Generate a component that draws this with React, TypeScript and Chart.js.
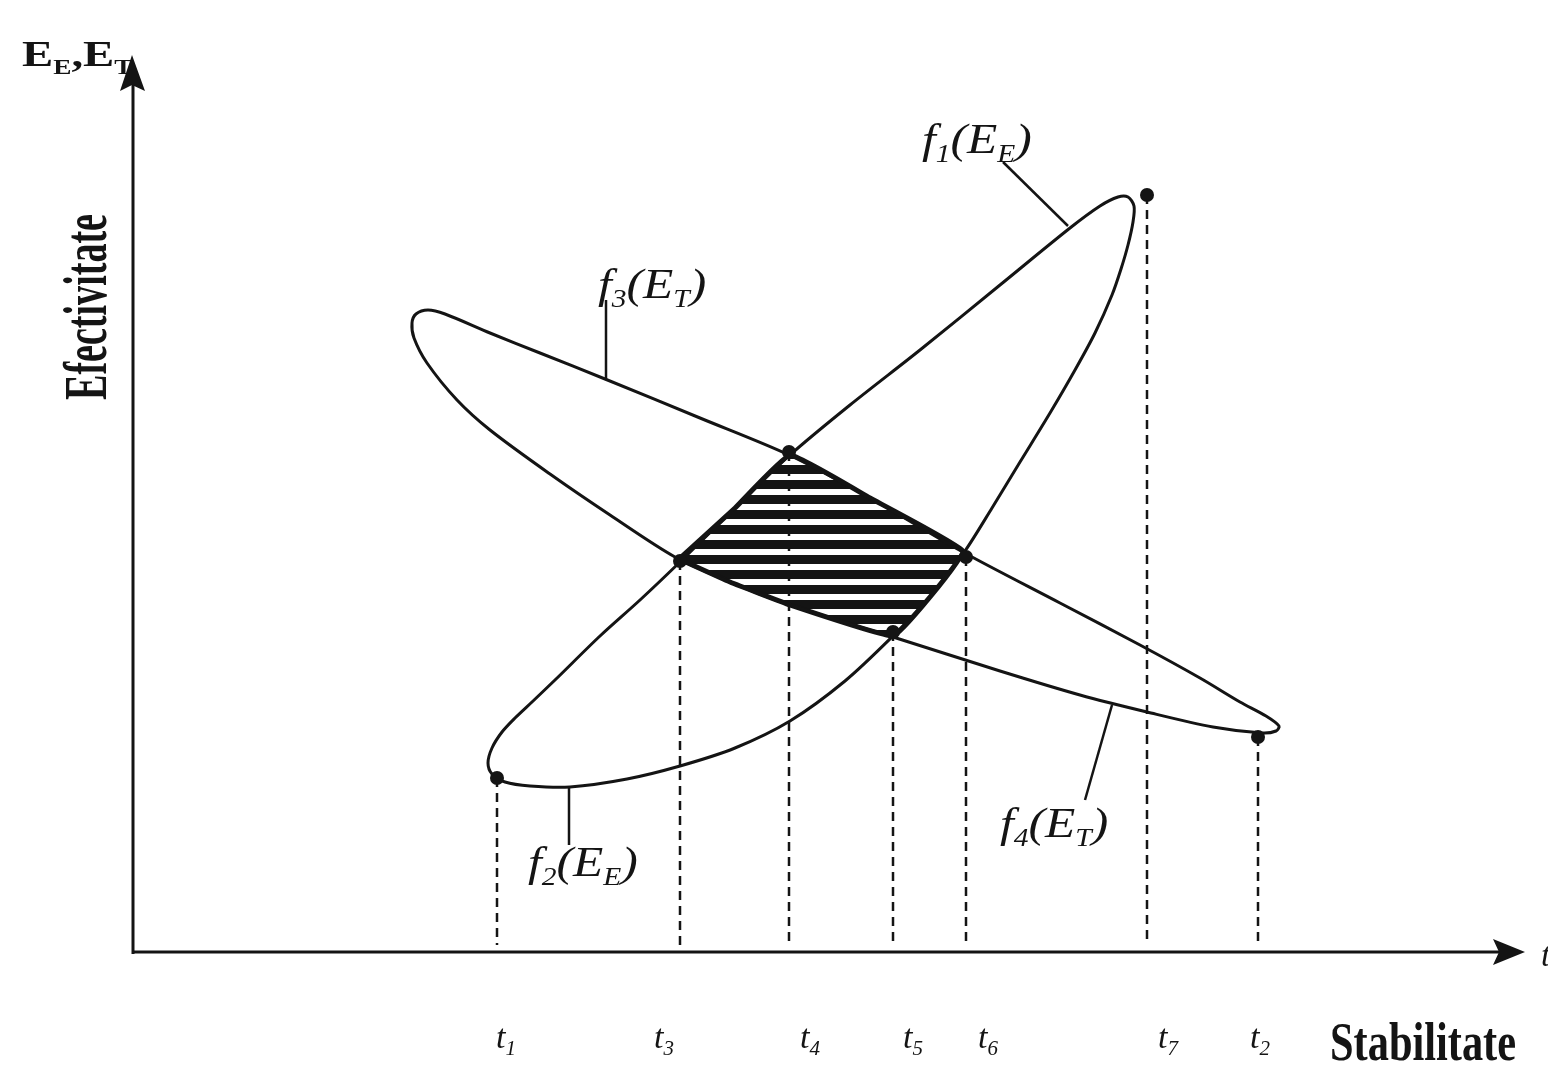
import React, { useEffect, useRef } from 'react';
import { Chart, registerables } from 'chart.js';

Chart.register(...registerables);

// ---- Data (abstract units: stability on x, effectiveness on y) ----
// Ellipse E_E : upper branch f1(E_E), lower branch f2(E_E)
const f1Upper: number[][] = [
  [35.3, 19.2], [35.7, 20.7], [36.7, 22.3], [38.0, 23.7], [39.7, 25.3], [42.0, 27.5],
  [46.5, 31.9], [50.5, 35.5], [54.5, 39.3], [60.0, 44.7], [65.5, 50.0], [71.5, 55.0],
  [78.5, 60.5], [86.5, 67.0], [93.5, 72.7], [96.5, 74.9], [98.3, 75.8], [99.3, 75.8],
  [99.9, 74.9],
];
const f2Lower: number[][] = [
  [99.9, 74.9], [99.8, 73.3], [99.3, 71.0], [98.6, 68.6], [97.7, 66.0], [96.0, 62.2],
  [94.0, 58.5], [91.5, 54.2], [88.5, 49.3], [85.7, 44.7], [83.0, 40.4], [79.5, 35.8],
  [75.8, 31.9], [71.0, 27.4], [65.5, 23.4], [60.0, 20.7], [54.5, 18.9], [49.2, 17.6],
  [43.5, 16.8], [39.5, 16.9], [37.0, 17.3], [35.7, 18.1], [35.3, 19.2],
];
// Ellipse E_T : upper branch f3(E_T), lower branch f4(E_T)
const f3Upper: number[][] = [
  [27.7, 63.2], [28.1, 64.1], [29.3, 64.5], [31.0, 64.1], [35.5, 62.2], [40.5, 60.2],
  [47.0, 57.6], [56.5, 53.7], [65.4, 50.0], [73.5, 45.7], [82.6, 40.4], [92.5, 35.2],
  [100.5, 31.0], [106.5, 27.7], [110.5, 25.3], [113.1, 23.9], [114.4, 22.9], [114.1, 22.4],
];
const f4Lower: number[][] = [
  [114.1, 22.4], [112.7, 22.2], [107.8, 22.8], [101.2, 24.3], [94.5, 26.0], [86.5, 28.4],
  [75.8, 31.8], [65.5, 35.0], [59.5, 37.3], [54.0, 39.8], [47.5, 44.0], [41.5, 48.1],
  [35.5, 52.5], [32.2, 55.5], [29.2, 59.2], [27.9, 61.7], [27.7, 63.2],
];
// Common (hatched) zone bounded by t3, t4, t6, t5
const hatchedZone: number[][] = [
  [54.4, 39.6], [60.0, 44.7], [65.5, 50.0], [73.5, 45.7], [82.8, 40.4], [79.5, 35.8],
  [75.8, 31.9], [65.5, 35.0], [59.5, 37.3], [54.4, 39.6],
];
// Marked points t1..t7
const markerNames = ['1', '3', '4', '5', '6', '7', '2'];
const markerX = [36.2, 54.5, 65.4, 75.8, 83.1, 101.2, 112.3];
const markerY = [17.7, 39.4, 50.3, 32.3, 39.8, 76.0, 21.8];
const markerFoot = 1.0;
// Curve labels: function index, argument subscript
const curveFn = ['1', '3', '2', '4'];
const curveArg = ['E', 'T', 'E', 'T'];
// Leader lines from curves to their labels
const leaderF1: number[][] = [[86.8, 79.3], [93.3, 72.9]];
const leaderF3: number[][] = [[47.1, 65.5], [47.1, 57.6]];
const leaderF2: number[][] = [[43.4, 16.8], [43.4, 11.0]];
const leaderF4: number[][] = [[97.7, 25.0], [95.0, 15.5]];

// ---- Layout constants ----
const X_MAX = 139;
const Y_MAX = 89;
const curveLabelPos = [[78.7, 80.2], [46.3, 65.7], [39.3, 7.9], [86.5, 11.8]];
const tickLabelX = [37.1, 52.9, 67.5, 77.8, 85.3, 103.3, 112.5];
const tickLabelY = -9.3;
const INK = '#141414';
const SERIF = '"Liberation Serif", "DejaVu Serif", serif';

const pts = (a: number[][]) => a.map(([x, y]) => ({ x, y }));

function closedLoop(upper: number[][], lower: number[][], k: number) {
  // start the loop in a straight stretch so the join is invisible
  return [...upper.slice(k), ...lower.slice(1), ...upper.slice(1, k + 1)];
}

type Seg = [string, boolean];
function drawRich(ctx: CanvasRenderingContext2D, x: number, y: number, segs: Seg[], style: string, size: number, subSize: number, align: 'left' | 'center' = 'left', sx = 1) {
  const fontMain = `${style} ${size}px ${SERIF}`;
  const fontSub = `${style} ${subSize}px ${SERIF}`;
  let total = 0;
  for (const [t, sub] of segs) {
    ctx.font = sub ? fontSub : fontMain;
    total += ctx.measureText(t).width;
  }
  ctx.save();
  const left = align === 'center' ? x - (total * sx) / 2 : x;
  ctx.translate(left, y);
  ctx.scale(sx, 1);
  let cx = 0;
  ctx.textAlign = 'left';
  ctx.textBaseline = 'alphabetic';
  for (const [t, sub] of segs) {
    ctx.font = sub ? fontSub : fontMain;
    ctx.fillText(t, cx, sub ? size * 0.22 : 0);
    cx += ctx.measureText(t).width;
  }
  ctx.restore();
}

function drawCondensed(ctx: CanvasRenderingContext2D, text: string, size: number, targetW: number) {
  ctx.font = `bold ${size}px ${SERIF}`;
  const w = ctx.measureText(text).width;
  ctx.save();
  ctx.scale(targetW / w, 1);
  ctx.textAlign = 'left';
  ctx.textBaseline = 'alphabetic';
  ctx.fillText(text, 0, 0);
  ctx.restore();
}

const decorPlugin = {
  id: 'decor',
  afterDraw(chart: any) {
    const ctx: CanvasRenderingContext2D = chart.ctx;
    const xs = chart.scales.x;
    const ys = chart.scales.y;
    const X = (v: number) => xs.getPixelForValue(v);
    const Y = (v: number) => ys.getPixelForValue(v);
    ctx.save();
    ctx.fillStyle = INK;
    ctx.strokeStyle = INK;

    // axes
    const ox = X(-0.2);
    const oy = Y(0.3);
    const yTip = Y(Y_MAX + 1.0);
    const xTip = X(X_MAX);
    ctx.lineWidth = 3;
    ctx.beginPath();
    ctx.moveTo(ox, oy + 2);
    ctx.lineTo(ox, yTip + 20);
    ctx.moveTo(ox - 1, oy);
    ctx.lineTo(xTip - 20, oy);
    ctx.stroke();
    // arrowheads
    ctx.beginPath();
    ctx.moveTo(ox - 1, yTip);
    ctx.lineTo(ox - 13, yTip + 36);
    ctx.lineTo(ox - 1, yTip + 30);
    ctx.lineTo(ox + 12, yTip + 36);
    ctx.closePath();
    ctx.fill();
    ctx.beginPath();
    ctx.moveTo(xTip, oy);
    ctx.lineTo(xTip - 32, oy - 13);
    ctx.lineTo(xTip - 26, oy);
    ctx.lineTo(xTip - 32, oy + 13);
    ctx.closePath();
    ctx.fill();

    // top-left axis title
    drawRich(ctx, 22, 66, [['E', false], ['E', true], [',', false], ['E', false], ['T', true]], 'bold', 36, 21, 'left', 1.3);

    // y-axis title (rotated)
    ctx.save();
    ctx.translate(106, 400);
    ctx.rotate(-Math.PI / 2);
    drawCondensed(ctx, 'Efectivitate', 62, 186);
    ctx.restore();

    // x-axis title
    ctx.save();
    ctx.translate(1330, 1060);
    drawCondensed(ctx, 'Stabilitate', 54, 186);
    ctx.restore();
    // clipped axis letter at the right edge
    ctx.font = `italic 34px ${SERIF}`;
    ctx.textAlign = 'left';
    ctx.fillText('t', xTip + 16, oy + 14);

    // curve labels
    curveFn.forEach((fn, i) => {
      const [lx, ly] = curveLabelPos[i];
      drawRich(ctx, X(lx), Y(ly), [['f', false], [fn, true], ['(E', false], [curveArg[i], true], [')', false]], 'italic', 42, 25, 'left', 1.18);
    });

    // tick labels t_i
    markerNames.forEach((n, i) => {
      drawRich(ctx, X(tickLabelX[i]), Y(tickLabelY), [['t', false], [n, true]], 'italic', 34, 21, 'center');
    });
    ctx.restore();
  },
};

export default function App() {
  const ref = useRef<HTMLCanvasElement | null>(null);
  useEffect(() => {
    if (!ref.current) return;
    // hatch pattern
    const pc = document.createElement('canvas');
    pc.width = 8;
    pc.height = 15;
    const pctx = pc.getContext('2d')!;
    pctx.fillStyle = '#ffffff';
    pctx.fillRect(0, 0, 8, 15);
    pctx.fillStyle = INK;
    pctx.fillRect(0, 0, 8, 9);
    const ctx0 = ref.current.getContext('2d')!;
    const pattern = ctx0.createPattern(pc, 'repeat');

    const lineBase = {
      showLine: true,
      pointRadius: 0,
      borderColor: INK,
      backgroundColor: INK,
      fill: false,
    };
    const datasets: any[] = [];
    // dots
    datasets.push({
      label: 'points',
      data: markerX.map((x, i) => ({ x, y: markerY[i] })),
      showLine: false,
      pointRadius: 7,
      pointBackgroundColor: INK,
      pointBorderColor: INK,
      borderWidth: 0,
    });
    // dashed projections
    markerX.forEach((x, i) => {
      datasets.push({
        ...lineBase,
        label: 't' + markerNames[i],
        data: [{ x, y: markerY[i] }, { x, y: markerFoot }],
        borderWidth: 2.5,
        borderDash: [9, 6],
        tension: 0,
      });
    });
    // leaders
    [leaderF1, leaderF3, leaderF2, leaderF4].forEach((l, i) => {
      datasets.push({ ...lineBase, label: 'leader' + i, data: pts(l), borderWidth: 2.5, tension: 0 });
    });
    // ellipses
    datasets.push({ ...lineBase, label: 'E_E', data: pts(closedLoop(f1Upper, f2Lower, 9)), borderWidth: 3, tension: 0.3 });
    datasets.push({ ...lineBase, label: 'E_T', data: pts(closedLoop(f3Upper, f4Lower, 7)), borderWidth: 3, tension: 0.3 });
    // hatched zone
    datasets.push({
      ...lineBase,
      label: 'zone',
      data: pts(hatchedZone),
      borderWidth: 5,
      tension: 0.1,
      fill: 'shape',
      backgroundColor: pattern,
    });

    const chart = new Chart(ref.current, {
      type: 'scatter',
      data: { datasets },
      options: {
        animation: false,
        responsive: false,
        devicePixelRatio: 1,
        layout: { padding: { left: 135, right: 23, top: 65, bottom: 111 } },
        plugins: { legend: { display: false }, tooltip: { enabled: false } },
        scales: {
          x: { type: 'linear', min: 0, max: X_MAX, display: false },
          y: { type: 'linear', min: 0, max: Y_MAX, display: false },
        },
        elements: { line: { capBezierPoints: false } },
      },
      plugins: [decorPlugin],
    } as any);
    return () => chart.destroy();
  }, []);

  return (
    <div style={{ position: 'absolute', left: 0, top: 0, width: 1548, height: 1066, background: '#fff' }}>
      <canvas ref={ref} width={1548} height={1066} style={{ display: 'block', width: 1548, height: 1066 }} />
    </div>
  );
}
